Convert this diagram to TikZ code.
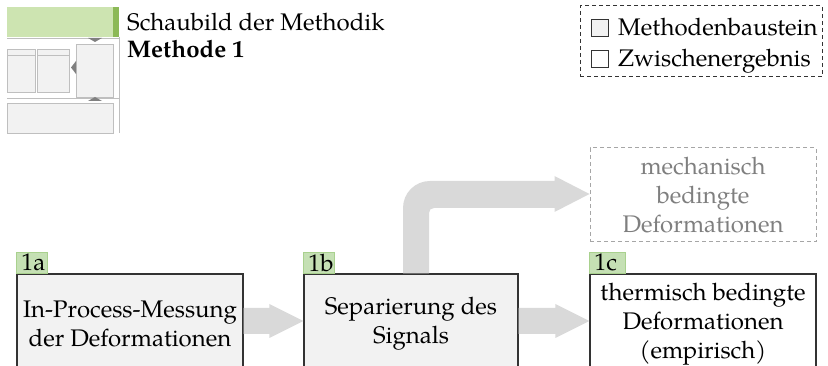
\documentclass[tikz,border=0pt]{standalone}
\usepackage{fontspec}
\setmainfont{TeX Gyre Pagella}
\usetikzlibrary{calc}
\definecolor{boxfill}{HTML}{F2F2F2}
\definecolor{arrowfill}{HTML}{D9D9D9}
\definecolor{tabfill}{HTML}{C5E0B4}
\definecolor{tabline}{HTML}{A9D18E}
\definecolor{thumbgreen}{HTML}{CDE4B1}
\definecolor{thumbdark}{HTML}{8CB957}
\definecolor{thumbline}{HTML}{BFBFBF}
\definecolor{thumbmark}{HTML}{808080}
\definecolor{edge}{HTML}{333333}
\definecolor{softgrey}{HTML}{A6A6A6}
\definecolor{softtext}{HTML}{7F7F7F}
\begin{document}
\begin{tikzpicture}[x=1pt,y=-1pt,
  font=\fontsize{24}{29}\selectfont,
  methodbox/.style={draw=edge, line width=1.2pt, fill=boxfill, minimum height=100pt,
    align=center, inner sep=0pt},
  resultbox/.style={methodbox, fill=white},
  openbox/.style={draw=softgrey, dashed, dash pattern=on 4pt off 3pt, line width=1pt,
    minimum width=226pt, minimum height=94pt, align=center, inner sep=0pt, text=softtext},
  tab/.style={draw=tabline, fill=tabfill, line width=0.8pt, minimum height=21pt,
    inner xsep=0pt, inner ysep=0pt, anchor=south west, align=left},
  blockarrow/.style={fill=arrowfill},
  thumbbox/.style={draw=thumbline, fill=boxfill, line width=0.7pt},
  legendsq/.style={draw=edge, line width=0.8pt, minimum width=17pt, minimum height=17pt,
    inner sep=0pt},
]
\useasboundingbox (0,0) rectangle (828,366);

% --- small overview sketch of the method ---
\fill[thumbgreen] (7,7) rectangle (113,37);
\fill[thumbdark] (113,7) rectangle (119,37);
\draw[thumbline, line width=0.7pt] (7,38) -- (119,38);
\draw[thumbline, line width=0.7pt] (7,98) -- (119,98);
\draw[thumbline, line width=0.7pt] (119,37) -- (119,133);
\draw[thumbbox] (7,49) rectangle (35,92);
\draw[thumbline, line width=0.7pt] (7,55) -- (35,55);
\draw[thumbbox] (37,49) rectangle (69,92);
\draw[thumbline, line width=0.7pt] (37,55) -- (69,55);
\draw[thumbbox] (76,44) rectangle (113,97);
\draw[thumbbox] (7,103) rectangle (113,133);
\fill[thumbmark] (88,38) -- (102,38) -- (95,42) -- cycle;
\fill[thumbmark] (88,101) -- (102,101) -- (95,97) -- cycle;
\fill[thumbmark] (76,61) -- (76,74) -- (71,67.5) -- cycle;

% --- title ---
\node[anchor=base west, inner sep=0pt] (title) at (127,31) {Schaubild der Methodik};
\node[anchor=base west, inner sep=0pt, font=\fontsize{24}{29}\selectfont\bfseries] (method) at (127,58) {Methode 1};

% --- legend ---
\node[draw=edge, dashed, dash pattern=on 4pt off 3pt, line width=1pt, minimum width=242pt,
  minimum height=71pt, inner sep=0pt] (legend) at (701,41.5) {};
\node[legendsq, fill=boxfill, anchor=north west] (sqmethod) at (591,19) {};
\node[legendsq, fill=white, anchor=north west] (sqresult) at (591,50) {};
\node[anchor=base west, inner sep=0pt] (lmethod) at (618,36) {Methodenbaustein};
\node[anchor=base west, inner sep=0pt] (lresult) at (618,67) {Zwischenergebnis};

% --- method steps ---
\node[methodbox, minimum width=226pt] (a) at (130,324) {In-Process-Messung\\der Deformationen};
\node[methodbox, minimum width=214pt] (b) at (411,324) {Separierung des\\Signals};
\node[resultbox, minimum width=226pt] (c) at (703,324) {thermisch bedingte\\Deformationen\\(empirisch)};
\node[openbox] (m) at (703,195) {mechanisch\\bedingte\\Deformationen};

% step labels
\node[tab, minimum width=31pt, text width=28pt] (ta) at (a.north west) {\hspace*{3pt}1a};
\node[tab, minimum width=31pt, text width=28pt] (tb) at (b.north west) {\hspace*{3pt}1b};
\node[tab, minimum width=36pt, text width=33pt] (tc) at (c.north west) {\hspace*{3pt}1c};

% --- block arrows between the steps ---
\fill[blockarrow] ($(a.east)+(0,-16)$) -- ($(b.west)+(-34,-16)$) -- ($(b.west)+(-34,-20)$)
  -- ($(b.west)+(0,-3)$) -- ($(b.west)+(-34,14)$) -- ($(b.west)+(-34,10)$)
  -- ($(a.east)+(0,10)$) -- cycle;
\fill[blockarrow] ($(b.east)+(0,-16)$) -- ($(c.west)+(-34,-16)$) -- ($(c.west)+(-34,-20)$)
  -- ($(c.west)+(0,-3)$) -- ($(c.west)+(-34,14)$) -- ($(c.west)+(-34,10)$)
  -- ($(b.east)+(0,10)$) -- cycle;

% bent arrow from the separation step up to the mechanical part
\coordinate (s1) at ($(b.north)+(-8,0)$);
\coordinate (s2) at ($(b.north)+(18,0)$);
\coordinate (tip) at ($(m.west)+(0,-1)$);
\fill[blockarrow] (s1) -- ($(s1 |- tip)+(0,14)$)
  .. controls ($(s1 |- tip)+(0,-1)$) and ($(s1 |- tip)+(12,-13)$) .. ($(s1 |- tip)+(27,-13)$)
  -- ($(tip)+(-35,-13)$) -- ($(tip)+(-35,-18)$) -- (tip) -- ($(tip)+(-35,18)$)
  -- ($(tip)+(-35,14)$) -- ($(s2 |- tip)+(5,14)$)
  .. controls ($(s2 |- tip)+(2,14)$) and ($(s2 |- tip)+(0,16)$) .. ($(s2 |- tip)+(0,19)$)
  -- (s2) -- cycle;
\end{tikzpicture}
\end{document}
